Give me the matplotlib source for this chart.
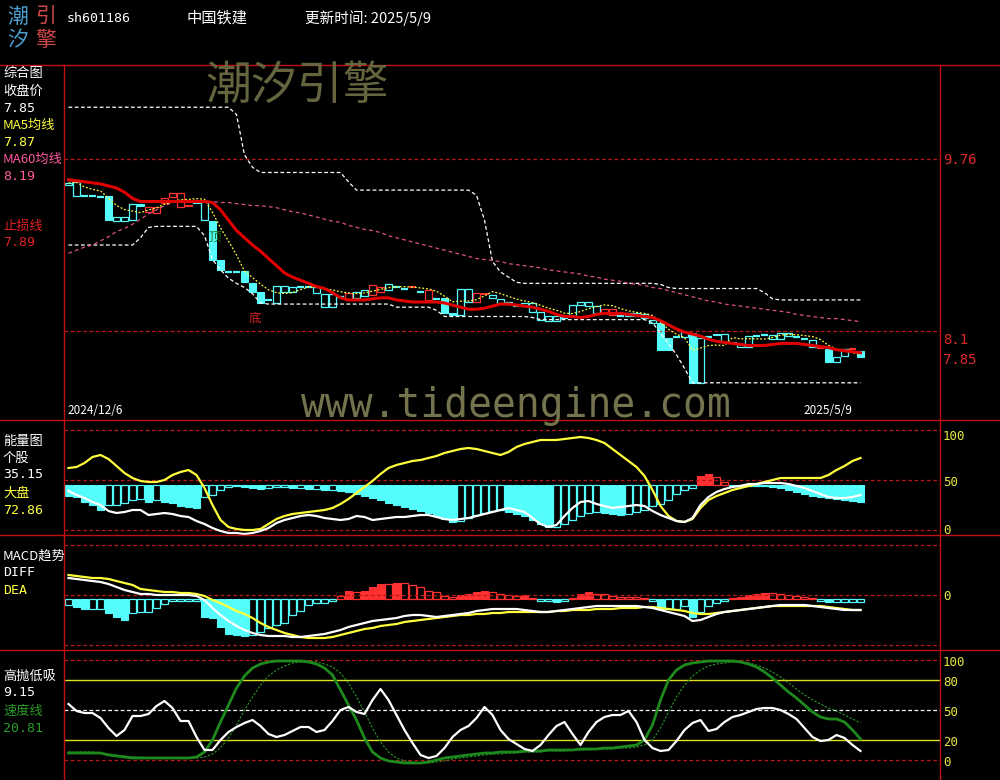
import matplotlib
matplotlib.use('Agg')
import matplotlib.pyplot as plt
from matplotlib.patches import Rectangle
from matplotlib.lines import Line2D
import pandas as pd

plt.rcParams['font.family'] = ['Noto Sans CJK SC', 'DejaVu Sans']

# ---------------- data ----------------
code = 'sh601186'
name = '中国铁建'
update_date = '2025/5/9'
start_date = '2024/12/6'
end_date = '2025/5/9'

opens = [9.51, 9.40, 9.40, 9.40, 9.39, 9.40, 9.16, 9.16, 9.17, 9.33,
         9.25, 9.24, 9.34, 9.39, 9.30, 9.32, 9.35, 9.17, 9.16, 8.79,
         8.67, 8.67, 8.68, 8.56, 8.48, 8.40, 8.37, 8.48, 8.48, 8.52,
         8.52, 8.47, 8.33, 8.33, 8.43, 8.40, 8.42, 8.44, 8.45, 8.48,
         8.50, 8.52, 8.51, 8.52, 8.48, 8.40, 8.41, 8.42, 8.27, 8.25,
         8.38, 8.38, 8.47, 8.42, 8.37, 8.36, 8.34, 8.34, 8.28, 8.21,
         8.20, 8.20, 8.23, 8.24, 8.35, 8.34, 8.27, 8.27, 8.25, 8.24,
         8.24, 8.24, 8.23, 8.18, 8.18, 8.03, 8.04, 8.04, 8.08, 7.60,
         8.04, 8.07, 7.99, 7.99, 7.95, 7.95, 8.05, 8.06, 8.02, 8.02,
         8.05, 8.04, 8.02, 7.95, 7.94, 7.93, 7.80, 7.86, 7.93, 7.91]
closes = [9.53, 9.54, 9.40, 9.40, 9.39, 9.17, 9.20, 9.20, 9.33, 9.31,
          9.30, 9.30, 9.38, 9.43, 9.43, 9.31, 9.34, 9.35, 8.79, 8.69,
          8.67, 8.67, 8.57, 8.48, 8.37, 8.40, 8.53, 8.53, 8.52, 8.52,
          8.52, 8.52, 8.46, 8.46, 8.43, 8.47, 8.48, 8.50, 8.54, 8.52,
          8.55, 8.52, 8.51, 8.52, 8.48, 8.50, 8.41, 8.27, 8.25, 8.51,
          8.51, 8.47, 8.46, 8.45, 8.41, 8.38, 8.34, 8.37, 8.37, 8.28,
          8.24, 8.24, 8.23, 8.35, 8.38, 8.38, 8.34, 8.31, 8.31, 8.24,
          8.27, 8.27, 8.26, 8.21, 7.92, 7.92, 8.04, 8.09, 7.60, 8.03,
          8.04, 8.06, 8.07, 7.98, 7.97, 8.05, 8.05, 8.06, 8.06, 8.08,
          8.08, 8.04, 8.02, 8.01, 7.94, 7.80, 7.85, 7.93, 7.93, 7.85]
candle_colors = ('cccccccccc' 'rrrrrrcccc' 'cccccccccc' 'cccccrccrr'
                 'cccrcrcccc' 'crrccccccc' 'cccccccrrc' 'cccccccccc'
                 'cccccccccc' 'ccccrcccrc')

ma60 = [8.85, 8.88, 8.91, 8.93, 8.97, 9.01, 9.06, 9.09, 9.13, 9.18,
        9.23, 9.27, 9.31, 9.34, 9.35, 9.36, 9.36, 9.35, 9.35, 9.34,
        9.34, 9.33, 9.32, 9.31, 9.31, 9.30, 9.29, 9.27, 9.25, 9.24,
        9.22, 9.20, 9.18, 9.16, 9.15, 9.12, 9.10, 9.08, 9.07, 9.05,
        9.02, 9.00, 8.98, 8.96, 8.94, 8.92, 8.90, 8.88, 8.86, 8.84,
        8.82, 8.80, 8.79, 8.78, 8.77, 8.75, 8.74, 8.73, 8.72, 8.71,
        8.69, 8.68, 8.67, 8.66, 8.65, 8.63, 8.62, 8.60, 8.59, 8.58,
        8.56, 8.55, 8.54, 8.52, 8.51, 8.49, 8.47, 8.45, 8.43, 8.41,
        8.39, 8.38, 8.36, 8.35, 8.34, 8.33, 8.32, 8.31, 8.30, 8.29,
        8.28, 8.26, 8.25, 8.24, 8.23, 8.22, 8.22, 8.21, 8.20, 8.19]

stop_line = [9.56, 9.55, 9.54, 9.53, 9.52, 9.50, 9.48, 9.44, 9.38, 9.35,
             9.35, 9.35, 9.35, 9.35, 9.35, 9.35, 9.35, 9.35, 9.34, 9.27,
             9.17, 9.07, 9.00, 8.93, 8.87, 8.80, 8.73, 8.66, 8.62, 8.59,
             8.56, 8.53, 8.51, 8.47, 8.42, 8.40, 8.40, 8.40, 8.41, 8.42,
             8.42, 8.40, 8.39, 8.38, 8.38, 8.38, 8.38, 8.37, 8.35, 8.33,
             8.31, 8.31, 8.32, 8.34, 8.36, 8.36, 8.35, 8.34, 8.33, 8.31,
             8.29, 8.26, 8.24, 8.24, 8.23, 8.24, 8.26, 8.27, 8.27, 8.27,
             8.26, 8.25, 8.24, 8.23, 8.20, 8.16, 8.12, 8.09, 8.07, 8.05,
             8.02, 8.00, 7.99, 7.98, 7.97, 7.96, 7.96, 7.96, 7.97, 7.98,
             7.98, 7.98, 7.97, 7.96, 7.95, 7.94, 7.92, 7.91, 7.90, 7.89]

upper_band = [10.26, 10.26, 10.26, 10.26, 10.26, 10.26, 10.26, 10.26, 10.26, 10.26,
              10.26, 10.26, 10.26, 10.26, 10.26, 10.26, 10.26, 10.26, 10.26, 10.26,
              10.26, 10.19, 9.80, 9.68, 9.63, 9.63, 9.63, 9.63, 9.63, 9.63,
              9.63, 9.63, 9.63, 9.63, 9.63, 9.54, 9.46, 9.46, 9.46, 9.46,
              9.46, 9.46, 9.46, 9.46, 9.46, 9.46, 9.46, 9.46, 9.46, 9.46,
              9.46, 9.41, 9.17, 8.77, 8.67, 8.62, 8.57, 8.56, 8.56, 8.56,
              8.56, 8.56, 8.56, 8.56, 8.56, 8.56, 8.56, 8.56, 8.56, 8.56,
              8.56, 8.56, 8.56, 8.56, 8.55, 8.52, 8.51, 8.51, 8.51, 8.51,
              8.51, 8.51, 8.51, 8.51, 8.51, 8.51, 8.51, 8.47, 8.41, 8.40,
              8.40, 8.40, 8.40, 8.40, 8.40, 8.40, 8.40, 8.40, 8.40, 8.40]

lower_band = [8.93, 8.93, 8.93, 8.93, 8.93, 8.93, 8.93, 8.93, 8.93, 9.00,
              9.10, 9.11, 9.11, 9.11, 9.11, 9.11, 9.11, 9.02, 8.79, 8.69,
              8.61, 8.56, 8.52, 8.46, 8.37, 8.36, 8.36, 8.36, 8.36, 8.36,
              8.36, 8.36, 8.36, 8.36, 8.36, 8.36, 8.36, 8.36, 8.36, 8.36,
              8.36, 8.33, 8.33, 8.33, 8.33, 8.33, 8.30, 8.24, 8.24, 8.24,
              8.24, 8.24, 8.24, 8.24, 8.24, 8.24, 8.24, 8.24, 8.23, 8.21,
              8.21, 8.21, 8.21, 8.21, 8.21, 8.21, 8.21, 8.21, 8.21, 8.21,
              8.21, 8.21, 8.21, 8.18, 8.08, 7.98, 7.87, 7.74, 7.60, 7.60,
              7.60, 7.60, 7.60, 7.60, 7.60, 7.60, 7.60, 7.60, 7.60, 7.60,
              7.60, 7.60, 7.60, 7.60, 7.60, 7.60, 7.60, 7.60, 7.60, 7.60]

# energy panel
energy_bars = [34, 33, 28, 25, 20, 25, 25, 27, 30, 31, 28, 30, 28, 27, 24, 23, 22, 33, 35, 40,
               43, 44, 43, 42, 41, 42, 43, 43, 42, 42, 41, 41, 40, 40,
               39, 38, 36, 34, 32, 30, 27, 25, 23, 21, 19, 17, 14, 11, 8, 9,
               12, 15, 17, 19, 20, 18, 16, 14, 10, 6, 3, 3, 6, 10, 14, 17, 18, 17, 16, 15,
               16, 18, 20, 24, 26, 30, 36, 40, 42, 54, 56, 53, 48,
               44, 44, 44, 44, 44, 43, 42, 40, 38, 36, 34, 33, 32, 31, 30, 29, 28]
stock_energy = [39, 35, 32, 28, 25, 19, 17, 18, 20, 20,
                15, 16, 17, 16, 14, 13, 9, 6, 2, -1,
                -3, -3, -4, -3, -1, 2, 7, 10, 12, 14,
                15, 14, 12, 11, 10, 11, 14, 13, 10, 11,
                12, 13, 13, 14, 15, 15, 13, 11, 10, 11,
                12, 14, 16, 18, 20, 22, 20, 18, 12, 6,
                3, 5, 14, 22, 28, 29, 26, 24, 22, 23,
                24, 25, 24, 19, 15, 12, 9, 8, 12, 25,
                33, 38, 41, 43, 44, 46, 46, 47, 47, 47,
                46, 44, 42, 39, 36, 33, 32, 32, 33, 35]
market_energy = [62, 63, 67, 73, 75, 71, 64, 57, 52, 49,
                 48, 48, 50, 55, 58, 60, 55, 42, 25, 10,
                 3, 1, 0, 0, 1, 6, 11, 14, 16, 17,
                 18, 19, 20, 22, 26, 31, 37, 43, 49, 56,
                 62, 65, 67, 69, 70, 72, 74, 77, 79, 81,
                 82, 81, 79, 77, 75, 78, 83, 86, 88, 90,
                 90, 90, 91, 92, 93, 92, 90, 87, 81, 75,
                 69, 63, 54, 40, 24, 14, 9, 8, 11, 22,
                 30, 34, 37, 40, 42, 44, 46, 48, 50, 52,
                 52, 52, 52, 52, 52, 55, 60, 64, 69, 72]

# MACD panel
macd_bars = [-0.06, -0.08, -0.10, -0.10, -0.10, -0.14, -0.18, -0.21, -0.14, -0.13,
             -0.13, -0.09, -0.05, -0.02, -0.02, -0.02, -0.02, -0.18, -0.19, -0.28,
             -0.35, -0.36, -0.37, -0.36, -0.33, -0.29, -0.26, -0.24, -0.16, -0.12,
             -0.06, -0.04, -0.04, -0.02, 0.03, 0.08, 0.07, 0.08, 0.12, 0.15,
             0.15, 0.16, 0.16, 0.14, 0.12, 0.08, 0.07, 0.03, 0.02, 0.04,
             0.05, 0.07, 0.08, 0.07, 0.05, 0.04, 0.03, 0.04, 0.01, -0.02,
             -0.02, -0.03, -0.02, 0.01, 0.05, 0.07, 0.05, 0.05, 0.03, 0.02,
             0.02, 0.02, 0.01, -0.02, -0.10, -0.10, -0.10, -0.07, -0.18, -0.13,
             -0.07, -0.04, -0.02, 0.01, 0.02, 0.04, 0.05, 0.06, 0.06, 0.05,
             0.04, 0.03, 0.02, 0.01, -0.02, -0.03, -0.03, -0.03, -0.03, -0.03]
diff = [0.21, 0.20, 0.19, 0.18, 0.17, 0.15, 0.12, 0.09, 0.07, 0.05,
        0.05, 0.04, 0.04, 0.04, 0.04, 0.04, 0.03, -0.01, -0.09, -0.16,
        -0.22, -0.27, -0.31, -0.34, -0.36, -0.37, -0.37, -0.37, -0.38, -0.38,
        -0.37, -0.36, -0.35, -0.33, -0.31, -0.28, -0.26, -0.24, -0.22, -0.21,
        -0.20, -0.19, -0.17, -0.16, -0.16, -0.17, -0.18, -0.17, -0.16, -0.15,
        -0.14, -0.12, -0.11, -0.10, -0.10, -0.10, -0.10, -0.11, -0.12, -0.13,
        -0.13, -0.12, -0.11, -0.10, -0.09, -0.08, -0.07, -0.07, -0.07, -0.07,
        -0.07, -0.07, -0.08, -0.09, -0.11, -0.13, -0.15, -0.17, -0.22, -0.21,
        -0.18, -0.15, -0.13, -0.12, -0.11, -0.10, -0.09, -0.08, -0.07, -0.06,
        -0.06, -0.06, -0.06, -0.07, -0.08, -0.09, -0.10, -0.11, -0.11, -0.11]
dea = [0.24, 0.23, 0.22, 0.21, 0.21, 0.20, 0.18, 0.16, 0.14, 0.10,
       0.09, 0.08, 0.07, 0.07, 0.06, 0.06, 0.05, 0.03, -0.01, -0.04,
       -0.08, -0.12, -0.15, -0.19, -0.24, -0.28, -0.31, -0.34, -0.36, -0.38,
       -0.39, -0.39, -0.39, -0.38, -0.36, -0.34, -0.32, -0.30, -0.29, -0.27,
       -0.26, -0.25, -0.23, -0.22, -0.21, -0.20, -0.19, -0.18, -0.17, -0.16,
       -0.16, -0.15, -0.15, -0.14, -0.14, -0.13, -0.13, -0.13, -0.13, -0.13,
       -0.13, -0.12, -0.12, -0.11, -0.11, -0.11, -0.10, -0.10, -0.10, -0.09,
       -0.09, -0.09, -0.08, -0.08, -0.09, -0.10, -0.11, -0.12, -0.14, -0.15,
       -0.15, -0.14, -0.13, -0.12, -0.11, -0.10, -0.09, -0.08, -0.07, -0.07,
       -0.07, -0.07, -0.07, -0.07, -0.07, -0.08, -0.09, -0.10, -0.11, -0.11]

# high-sell low-buy panel
hl_line = [56, 49, 47, 47, 42, 32, 24, 30, 44, 44,
           46, 54, 59, 52, 39, 39, 23, 10, 10, 20,
           28, 33, 37, 40, 34, 26, 23, 25, 29, 33,
           33, 28, 30, 39, 50, 53, 48, 46, 60, 71,
           60, 45, 30, 17, 5, 2, 4, 12, 23, 30,
           34, 42, 53, 45, 30, 21, 16, 11, 9, 15,
           25, 34, 38, 26, 15, 28, 38, 43, 45, 45,
           49, 38, 20, 12, 9, 10, 19, 30, 37, 40,
           29, 31, 38, 43, 45, 48, 51, 52, 52, 50,
           46, 41, 32, 23, 19, 20, 25, 22, 15, 9]
speed_line = [7, 7, 7, 7, 7, 5, 4, 3, 2, 2,
              2, 2, 2, 2, 2, 2, 3, 8, 20, 38,
              55, 72, 84, 92, 96, 98, 99, 99, 99, 99,
              98, 96, 92, 85, 70, 55, 40, 22, 8, 2,
              -1, -2, -3, -3, -3, -2, 0, 2, 3, 4,
              5, 6, 7, 7, 8, 8, 8, 9, 9, 9,
              10, 10, 10, 10, 11, 11, 11, 12, 12, 13,
              14, 15, 20, 35, 60, 80, 90, 95, 97, 98,
              99, 99, 99, 99, 98, 96, 93, 88, 82, 75,
              68, 62, 55, 48, 43, 41, 41, 38, 30, 21]
speed_slow = [8, 8, 8, 8, 7, 6, 5, 4, 3, 3,
              2, 2, 2, 2, 2, 2, 2, 3, 6, 12,
              22, 35, 50, 63, 75, 84, 90, 94, 97, 98,
              99, 98, 96, 93, 87, 77, 63, 48, 32, 18,
              8, 2, -1, -2, -3, -3, -2, -1, 1, 2,
              3, 4, 5, 6, 6, 7, 7, 8, 8, 8,
              9, 9, 9, 10, 10, 10, 11, 11, 11, 12,
              12, 13, 15, 20, 32, 48, 63, 75, 84, 90,
              94, 96, 97, 98, 98, 97, 95, 92, 88, 83,
              77, 71, 65, 60, 56, 52, 49, 45, 41, 37]

# ---------------- style ----------------
W, H = 1000, 780
BORDER = '#c01010'
GRID = '#b81818'
CYAN = '#54fcfc'
RED = '#ff3030'
YEL = '#ffff3c'
PINK = '#ff5aa0'
GREEN = '#1e8a1e'
AXLAB = '#e8e840'
X0, X1 = 64, 940
CX0, STEP = 68.5, 8.0

fig = plt.figure(figsize=(W / 100, H / 100), dpi=100, facecolor='black')


def fy(py):
    return 1 - py / H


def panel(top, bottom, ylo, yhi):
    ax = fig.add_axes([X0 / W, 1 - bottom / H, (X1 - X0) / W, (bottom - top) / H])
    ax.set_facecolor('black')
    ax.set_xlim((X0 - CX0) / STEP, (X1 - CX0) / STEP)
    ax.set_ylim(ylo, yhi)
    ax.set_xticks([])
    ax.set_yticks([])
    for s in ax.spines.values():
        s.set_visible(False)
    return ax


n = len(closes)
xs = list(range(n))
ma5 = pd.Series(closes).rolling(5, min_periods=1).mean().tolist()

# ---- main panel ----
p_lo = 8.1 - (420 - 331) / 103.6
p_hi = 8.1 + (331 - 65) / 103.6
ax = panel(65, 420, p_lo, p_hi)
for lv in (9.76, 8.1):
    ax.axhline(lv, color=GRID, lw=0.9, ls=(0, (3, 2)))
ax.plot(xs, upper_band, color='white', lw=0.9, ls=(0, (3, 2)))
ax.plot(xs, lower_band, color='white', lw=0.9, ls=(0, (3, 2)))
ax.plot(xs, ma60, color='#e0508a', lw=0.9, ls=(0, (3, 2.5)))
for i in range(n):
    o, c = opens[i], closes[i]
    col = CYAN if candle_colors[i] == 'c' else RED
    lo, hi = min(o, c), max(o, c)
    if hi - lo < 0.008:
        ax.plot([i - 0.4, i + 0.4], [c, c], color=col, lw=1.6, solid_capstyle='butt')
    elif c < o:
        ax.add_patch(Rectangle((i - 0.4, lo), 0.8, hi - lo, facecolor=col, edgecolor=col, lw=0.8))
    else:
        ax.add_patch(Rectangle((i - 0.4, lo), 0.8, hi - lo, facecolor='black', edgecolor=col, lw=0.9))
ax.plot(xs, ma5, color=YEL, lw=0.9, ls=(0, (1.5, 1.5)))
ax.plot(xs, stop_line, color='#e00000', lw=2.2)
ax.text(18.3, 9.01, '顶', color='#1a6e1a', fontsize=9, ha='center', va='center')
ax.text(23.3, 8.22, '底', color='#d02020', fontsize=9, ha='center', va='center')

# ---- energy panel ----
ax2 = panel(420, 535, -5, 110)
for lv in (100, 50, 0):
    ax2.axhline(lv, color=GRID, lw=0.9, ls=(0, (3, 2)))
base = 45
prev = base
for i, v in enumerate(energy_bars):
    if v >= base:
        col = RED
        solid = v > prev
    else:
        col = CYAN
        solid = v < prev
    h = v - base
    if solid:
        ax2.add_patch(Rectangle((i - 0.4, base), 0.8, h, facecolor=col, edgecolor=col, lw=0.8))
    else:
        ax2.add_patch(Rectangle((i - 0.4, base), 0.8, h, facecolor='black', edgecolor=col, lw=0.9))
    prev = v
ax2.plot(xs, market_energy, color=YEL, lw=1.6)
ax2.plot(xs, stock_energy, color='white', lw=1.6)

# ---- MACD panel ----
ax3 = panel(535, 650, -0.51, 0.64)
for lv in (0.54, 0.04, -0.46):
    ax3.axhline(lv, color=GRID, lw=0.9, ls=(0, (3, 2)))
prev = 0.0
for i, v in enumerate(macd_bars):
    col = RED if v > 0 else CYAN
    solid = abs(v) > abs(prev) and (v * prev > 0)
    if i == 0:
        solid = False
    if solid:
        ax3.add_patch(Rectangle((i - 0.4, 0), 0.8, v, facecolor=col, edgecolor=col, lw=0.8))
    else:
        ax3.add_patch(Rectangle((i - 0.4, 0), 0.8, v, facecolor='black', edgecolor=col, lw=0.9))
    prev = v
ax3.plot(xs, dea, color=YEL, lw=1.6)
ax3.plot(xs, diff, color='white', lw=1.6)

# ---- bottom panel ----
ax4 = panel(650, 780, -20, 110)
ax4.axhline(100, color=GRID, lw=0.9, ls=(0, (3, 2)))
ax4.axhline(0, color=GRID, lw=0.9, ls=(0, (3, 2)))
ax4.axhline(80, color='#e0e020', lw=1.0)
ax4.axhline(20, color='#e0e020', lw=1.0)
ax4.axhline(50, color='white', lw=0.9, ls=(0, (3, 2)))
ax4.plot(xs, speed_slow, color='#2a9a2a', lw=0.8, ls=(0, (2, 1.5)))
ax4.plot(xs, speed_line, color=GREEN, lw=2.0)
ax4.plot(xs, hl_line, color='white', lw=1.6)

# ---------------- frame lines ----------------
for py in (65, 420, 535, 650):
    fig.add_artist(Line2D([0, 1], [fy(py), fy(py)], color=BORDER, lw=1.0))
for px in (X0, X1):
    fig.add_artist(Line2D([px / W, px / W], [fy(65), 0], color=BORDER, lw=1.0))


def ftxt(x, y, s, color, size=9.5, **kw):
    fig.text(x / W, fy(y), s, color=color, fontsize=size, va='center', ha='left', **kw)


MONO = ['DejaVu Sans Mono', 'Noto Sans CJK SC']

# header
ftxt(7, 17, '潮', '#4a9fd0', 15)
ftxt(35, 17, '引', '#d04848', 15)
ftxt(7, 40, '汐', '#4a9fd0', 15)
ftxt(35, 40, '擎', '#d04848', 15)
ftxt(67, 18, code, 'white', 9.5, family=MONO)
ftxt(187, 18, name, 'white', 11)
ftxt(305, 18, '更新时间: ' + update_date, 'white', 10.5)

# watermarks
fig.text(297 / W, fy(86), '潮汐引擎', color='#6a6a42', fontsize=33, va='center', ha='center', alpha=0.95)
fig.text(516 / W, fy(406), 'www.tideengine.com', color='#7a7a52', fontsize=28.5,
         va='center', ha='center', family=['DejaVu Sans Mono'], alpha=0.95)

# main left labels
ftxt(3, 73, '综合图', 'white')
ftxt(3, 91, '收盘价', 'white')
ftxt(3, 108, '%.2f' % closes[-1], 'white', family=MONO)
ftxt(3, 125, 'MA5均线', YEL)
ftxt(3, 142, '%.2f' % ma5[-1], YEL, family=MONO)
ftxt(3, 159, 'MA60均线', PINK)
ftxt(3, 176, '%.2f' % ma60[-1], PINK, family=MONO)
ftxt(3, 226, '止损线', '#e02020')
ftxt(3, 243, '%.2f' % stop_line[-1], '#e02020', family=MONO)

# dates
ftxt(67, 411, start_date, 'white', 8.5)
ftxt(803, 411, end_date, 'white', 8.5)

# right price labels
ftxt(943, 160, '9.76', '#e02828', 10, family=MONO)
ftxt(943, 340, '8.1', '#e02828', 10, family=MONO)
ftxt(943, 360, '%.2f' % closes[-1], '#e02828', 10, family=MONO)

# energy labels
ftxt(3, 441, '能量图', 'white')
ftxt(3, 458, '个股', 'white')
ftxt(3, 475, '35.15', 'white', family=MONO)
ftxt(3, 493, '大盘', YEL)
ftxt(3, 510, '72.86', YEL, family=MONO)
ftxt(943, 437, '100', AXLAB, 9, family=MONO)
ftxt(943, 482, '50', AXLAB, 9, family=MONO)
ftxt(943, 531, '0', AXLAB, 9, family=MONO)

# MACD labels
ftxt(3, 556, 'MACD趋势', 'white')
ftxt(3, 573, 'DIFF', 'white', family=MONO)
ftxt(3, 590, 'DEA', YEL, family=MONO)
ftxt(943, 597, '0', AXLAB, 9, family=MONO)

# bottom labels
ftxt(3, 676, '高抛低吸', 'white')
ftxt(3, 693, '9.15', 'white', family=MONO)
ftxt(3, 711, '速度线', '#2a9a2a')
ftxt(3, 728, '20.81', '#2a9a2a', family=MONO)
for lab, py in (('100', 662), ('80', 682), ('50', 712), ('20', 742), ('0', 762)):
    ftxt(943, py, lab, AXLAB, 9, family=MONO)

fig.savefig('out.png', dpi=100, facecolor='black')
